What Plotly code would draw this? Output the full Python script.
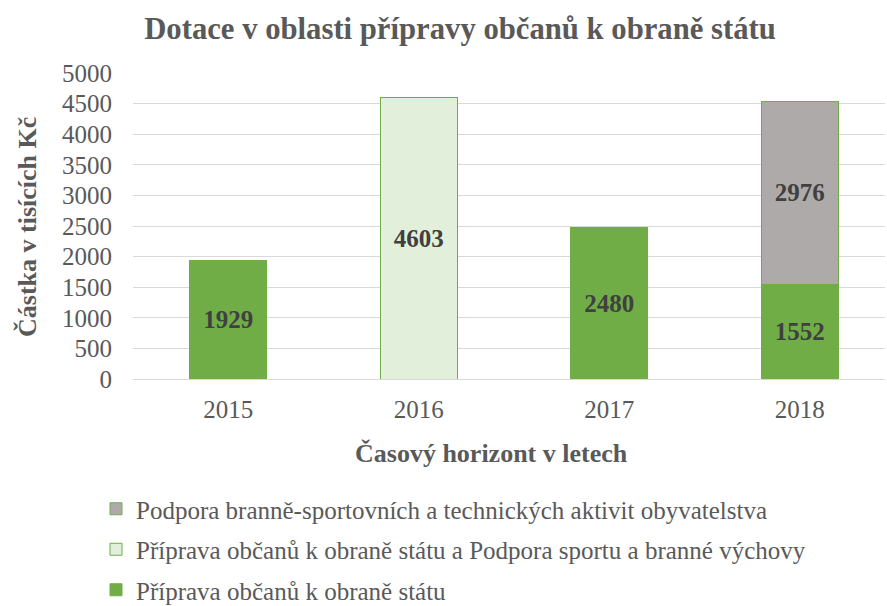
import plotly.graph_objects as go

years = ["2015", "2016", "2017", "2018"]
s_green_name = "Příprava občanů k obraně státu"
s_green = [1929, None, 2480, 1552]
s_light_name = "Příprava občanů k obraně státu a Podpora sportu a branné výchovy"
s_light = [None, 4603, None, None]
s_gray_name = "Podpora branně-sportovních a technických aktivit obyvatelstva"
s_gray = [None, None, None, 2976]
y_ticks = [0, 500, 1000, 1500, 2000, 2500, 3000, 3500, 4000, 4500, 5000]

FONT = "Liberation Serif, Times New Roman, serif"
TXT = "#595959"
GREEN = "#70AD47"
LIGHT = "#E2EFDA"
GRAY = "#AEAAAA"

def lbl(v):
    return [str(x) if x is not None else "" for x in v]

fig = go.Figure()
series = [(s_green_name, s_green, GREEN, 3), (s_light_name, s_light, LIGHT, 2), (s_gray_name, s_gray, GRAY, 1)]
for i, (name, vals, col, rank) in enumerate(series):
    fig.add_trace(go.Bar(
        x=years, y=vals, name=name, legendgroup="g%d" % i, legendrank=rank,
        marker=dict(color=col, line=dict(color=GREEN, width=1)),
        text=lbl(vals), textposition="inside", insidetextanchor="middle",
        textfont=dict(family=FONT, size=25, color="#404040", weight="bold"),
        textangle=0,
    ))

fig.update_layout(
    width=887, height=606,
    barmode="stack", bargap=0.595,
    plot_bgcolor="white", paper_bgcolor="white",
    margin=dict(l=133, r=2, t=73, b=227, autoexpand=False),
    font=dict(family=FONT, color=TXT),
    title=dict(text="<b>Dotace v oblasti přípravy občanů k obraně státu</b>",
               x=460/887, xanchor="center", y=1-28/606, yanchor="middle",
               font=dict(family=FONT, size=30.7, color=TXT)),
    xaxis=dict(type="category", range=[-0.5, 3.447], showgrid=False,
               showline=True, linecolor="#D9D9D9", linewidth=1, ticks="",
               ticklabelstandoff=8,
               tickfont=dict(family=FONT, size=25, color=TXT)),
    yaxis=dict(range=[0, 5000], tickvals=y_ticks, showgrid=True, gridcolor="#D9D9D9",
               zeroline=False, ticks="", ticklabelstandoff=20,
               tickfont=dict(family=FONT, size=25, color=TXT)),
    legend=dict(orientation="v", traceorder="grouped", x=(96-133)/752, xanchor="left",
                y=-(486-379)/306, yanchor="top", font=dict(family=FONT, size=25, color=TXT),
                tracegroupgap=5, itemwidth=30),
    annotations=[
        dict(text="<b>Částka v tisících Kč</b>", xref="paper", yref="paper",
             x=(27-133)/752, y=(379-227)/306, xanchor="center", yanchor="middle",
             textangle=-90, showarrow=False, font=dict(family=FONT, size=26, color=TXT)),
        dict(text="<b>Časový horizont v letech</b>", xref="paper", yref="paper",
             x=(491-133)/752, y=-(453-379)/306, xanchor="center", yanchor="middle",
             showarrow=False, font=dict(family=FONT, size=26, color=TXT)),
    ],
)
fig.write_html("out.html")
